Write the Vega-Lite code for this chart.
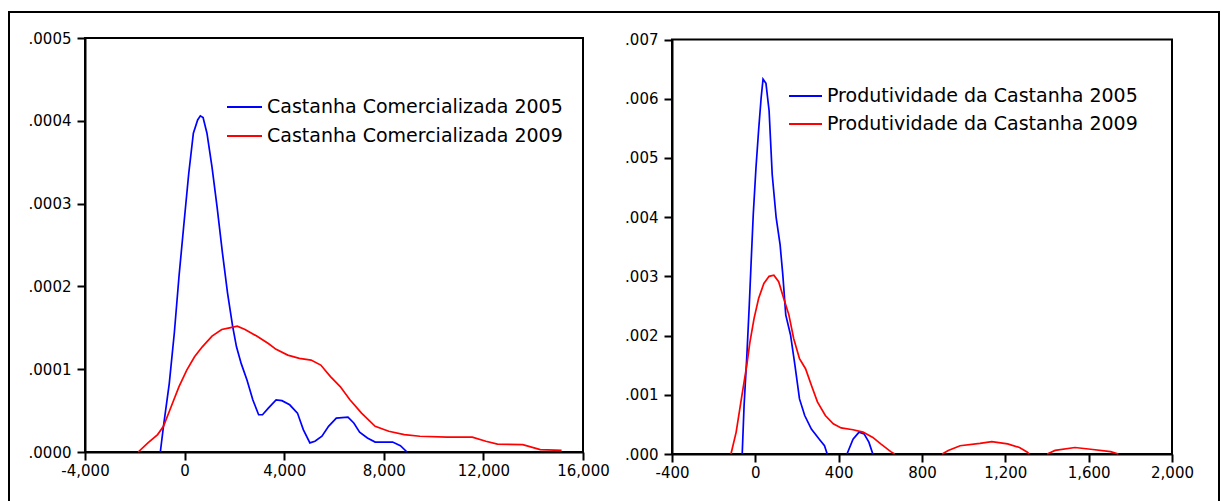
{
  "$schema": "https://vega.github.io/schema/vega-lite/v6.json",
  "width": 1210,
  "height": 490,
  "autosize": {"type": "none"},
  "padding": {"left": 9, "top": 12, "right": 2, "bottom": 0},
  "background": "white",
  "config": {
    "view": {"stroke": "black", "strokeWidth": 2},
    "axis": {
      "grid": false,
      "title": null,
      "domainColor": "black",
      "domainWidth": 2,
      "tickColor": "black",
      "tickWidth": 2,
      "tickSize": 8,
      "labelFont": "DejaVu Sans",
      "labelFontSize": 15,
      "labelColor": "black",
      "labelFlush": false,
      "labelOverlap": false,
      "labelBound": false
    },
    "legend": {
      "title": null,
      "symbolType": "stroke",
      "symbolStrokeWidth": 2,
      "labelFont": "DejaVu Sans",
      "labelFontSize": 19,
      "labelColor": "black",
      "labelLimit": 500,
      "labelOffset": 4,
      "padding": 0
    }
  },
  "datasets": {
    "p1": [
      {"x": -974, "y": 0, "s": "Castanha Comercializada 2005", "seg": "a"},
      {"x": -849, "y": 0.000031, "s": "Castanha Comercializada 2005", "seg": "a"},
      {"x": -615, "y": 0.000083, "s": "Castanha Comercializada 2005", "seg": "a"},
      {"x": -412, "y": 0.000144, "s": "Castanha Comercializada 2005", "seg": "a"},
      {"x": -225, "y": 0.000212, "s": "Castanha Comercializada 2005", "seg": "a"},
      {"x": -38, "y": 0.000272, "s": "Castanha Comercializada 2005", "seg": "a"},
      {"x": 165, "y": 0.000336, "s": "Castanha Comercializada 2005", "seg": "a"},
      {"x": 352, "y": 0.000385, "s": "Castanha Comercializada 2005", "seg": "a"},
      {"x": 524, "y": 0.000401, "s": "Castanha Comercializada 2005", "seg": "a"},
      {"x": 633, "y": 0.000406, "s": "Castanha Comercializada 2005", "seg": "a"},
      {"x": 742, "y": 0.000404, "s": "Castanha Comercializada 2005", "seg": "a"},
      {"x": 898, "y": 0.000385, "s": "Castanha Comercializada 2005", "seg": "a"},
      {"x": 1101, "y": 0.000344, "s": "Castanha Comercializada 2005", "seg": "a"},
      {"x": 1304, "y": 0.000296, "s": "Castanha Comercializada 2005", "seg": "a"},
      {"x": 1522, "y": 0.00024, "s": "Castanha Comercializada 2005", "seg": "a"},
      {"x": 1725, "y": 0.000192, "s": "Castanha Comercializada 2005", "seg": "a"},
      {"x": 1928, "y": 0.000152, "s": "Castanha Comercializada 2005", "seg": "a"},
      {"x": 2084, "y": 0.000127, "s": "Castanha Comercializada 2005", "seg": "a"},
      {"x": 2271, "y": 0.000107, "s": "Castanha Comercializada 2005", "seg": "a"},
      {"x": 2505, "y": 0.000087, "s": "Castanha Comercializada 2005", "seg": "a"},
      {"x": 2739, "y": 0.000063, "s": "Castanha Comercializada 2005", "seg": "a"},
      {"x": 2973, "y": 0.000045, "s": "Castanha Comercializada 2005", "seg": "a"},
      {"x": 3129, "y": 0.000045, "s": "Castanha Comercializada 2005", "seg": "a"},
      {"x": 3363, "y": 0.000053, "s": "Castanha Comercializada 2005", "seg": "a"},
      {"x": 3675, "y": 0.000063, "s": "Castanha Comercializada 2005", "seg": "a"},
      {"x": 3909, "y": 0.000062, "s": "Castanha Comercializada 2005", "seg": "a"},
      {"x": 4221, "y": 0.000057, "s": "Castanha Comercializada 2005", "seg": "a"},
      {"x": 4533, "y": 0.000047, "s": "Castanha Comercializada 2005", "seg": "a"},
      {"x": 4767, "y": 0.000027, "s": "Castanha Comercializada 2005", "seg": "a"},
      {"x": 5032, "y": 0.000011, "s": "Castanha Comercializada 2005", "seg": "a"},
      {"x": 5235, "y": 0.000013, "s": "Castanha Comercializada 2005", "seg": "a"},
      {"x": 5516, "y": 0.000019, "s": "Castanha Comercializada 2005", "seg": "a"},
      {"x": 5781, "y": 0.000031, "s": "Castanha Comercializada 2005", "seg": "a"},
      {"x": 6093, "y": 0.000041, "s": "Castanha Comercializada 2005", "seg": "a"},
      {"x": 6561, "y": 0.000042, "s": "Castanha Comercializada 2005", "seg": "a"},
      {"x": 6795, "y": 0.000035, "s": "Castanha Comercializada 2005", "seg": "a"},
      {"x": 7029, "y": 0.000024, "s": "Castanha Comercializada 2005", "seg": "a"},
      {"x": 7341, "y": 0.000017, "s": "Castanha Comercializada 2005", "seg": "a"},
      {"x": 7653, "y": 0.000012, "s": "Castanha Comercializada 2005", "seg": "a"},
      {"x": 8355, "y": 0.000012, "s": "Castanha Comercializada 2005", "seg": "a"},
      {"x": 8667, "y": 0.0000076, "s": "Castanha Comercializada 2005", "seg": "a"},
      {"x": 8932, "y": 0, "s": "Castanha Comercializada 2005", "seg": "a"},
      {"x": -1863, "y": 0, "s": "Castanha Comercializada 2009", "seg": "b"},
      {"x": -1473, "y": 0.000011, "s": "Castanha Comercializada 2009", "seg": "b"},
      {"x": -1083, "y": 0.000021, "s": "Castanha Comercializada 2009", "seg": "b"},
      {"x": -849, "y": 0.000031, "s": "Castanha Comercializada 2009", "seg": "b"},
      {"x": -537, "y": 0.000055, "s": "Castanha Comercializada 2009", "seg": "b"},
      {"x": -225, "y": 0.000079, "s": "Castanha Comercializada 2009", "seg": "b"},
      {"x": 87, "y": 0.000099, "s": "Castanha Comercializada 2009", "seg": "b"},
      {"x": 399, "y": 0.000115, "s": "Castanha Comercializada 2009", "seg": "b"},
      {"x": 711, "y": 0.000127, "s": "Castanha Comercializada 2009", "seg": "b"},
      {"x": 1101, "y": 0.00014, "s": "Castanha Comercializada 2009", "seg": "b"},
      {"x": 1491, "y": 0.000148, "s": "Castanha Comercializada 2009", "seg": "b"},
      {"x": 1803, "y": 0.00015, "s": "Castanha Comercializada 2009", "seg": "b"},
      {"x": 2115, "y": 0.000152, "s": "Castanha Comercializada 2009", "seg": "b"},
      {"x": 2427, "y": 0.000148, "s": "Castanha Comercializada 2009", "seg": "b"},
      {"x": 2895, "y": 0.00014, "s": "Castanha Comercializada 2009", "seg": "b"},
      {"x": 3363, "y": 0.000131, "s": "Castanha Comercializada 2009", "seg": "b"},
      {"x": 3675, "y": 0.000124, "s": "Castanha Comercializada 2009", "seg": "b"},
      {"x": 4143, "y": 0.000117, "s": "Castanha Comercializada 2009", "seg": "b"},
      {"x": 4611, "y": 0.000113, "s": "Castanha Comercializada 2009", "seg": "b"},
      {"x": 5079, "y": 0.000111, "s": "Castanha Comercializada 2009", "seg": "b"},
      {"x": 5469, "y": 0.000105, "s": "Castanha Comercializada 2009", "seg": "b"},
      {"x": 5859, "y": 0.000091, "s": "Castanha Comercializada 2009", "seg": "b"},
      {"x": 6249, "y": 0.000079, "s": "Castanha Comercializada 2009", "seg": "b"},
      {"x": 6639, "y": 0.000063, "s": "Castanha Comercializada 2009", "seg": "b"},
      {"x": 7107, "y": 0.000047, "s": "Castanha Comercializada 2009", "seg": "b"},
      {"x": 7653, "y": 0.000031, "s": "Castanha Comercializada 2009", "seg": "b"},
      {"x": 8199, "y": 0.000025, "s": "Castanha Comercializada 2009", "seg": "b"},
      {"x": 8823, "y": 0.000021, "s": "Castanha Comercializada 2009", "seg": "b"},
      {"x": 9447, "y": 0.000019, "s": "Castanha Comercializada 2009", "seg": "b"},
      {"x": 10539, "y": 0.000018, "s": "Castanha Comercializada 2009", "seg": "b"},
      {"x": 11553, "y": 0.000018, "s": "Castanha Comercializada 2009", "seg": "b"},
      {"x": 12099, "y": 0.000013, "s": "Castanha Comercializada 2009", "seg": "b"},
      {"x": 12567, "y": 0.0000096, "s": "Castanha Comercializada 2009", "seg": "b"},
      {"x": 13581, "y": 0.0000088, "s": "Castanha Comercializada 2009", "seg": "b"},
      {"x": 14283, "y": 0.0000028, "s": "Castanha Comercializada 2009", "seg": "b"},
      {"x": 15141, "y": 0.000002, "s": "Castanha Comercializada 2009", "seg": "b"}
    ],
    "p2": [
      {"x": -63, "y": 0, "s": "Produtividade da Castanha 2005", "seg": "a1"},
      {"x": -54, "y": 0.00082, "s": "Produtividade da Castanha 2005", "seg": "a1"},
      {"x": -41, "y": 0.00164, "s": "Produtividade da Castanha 2005", "seg": "a1"},
      {"x": -29, "y": 0.00252, "s": "Produtividade da Castanha 2005", "seg": "a1"},
      {"x": -20, "y": 0.00325, "s": "Produtividade da Castanha 2005", "seg": "a1"},
      {"x": -10, "y": 0.00404, "s": "Produtividade da Castanha 2005", "seg": "a1"},
      {"x": 3, "y": 0.00483, "s": "Produtividade da Castanha 2005", "seg": "a1"},
      {"x": 16, "y": 0.00548, "s": "Produtividade da Castanha 2005", "seg": "a1"},
      {"x": 28, "y": 0.00602, "s": "Produtividade da Castanha 2005", "seg": "a1"},
      {"x": 37, "y": 0.00633, "s": "Produtividade da Castanha 2005", "seg": "a1"},
      {"x": 51, "y": 0.00626, "s": "Produtividade da Castanha 2005", "seg": "a1"},
      {"x": 66, "y": 0.0058, "s": "Produtividade da Castanha 2005", "seg": "a1"},
      {"x": 81, "y": 0.00472, "s": "Produtividade da Castanha 2005", "seg": "a1"},
      {"x": 100, "y": 0.00399, "s": "Produtividade da Castanha 2005", "seg": "a1"},
      {"x": 119, "y": 0.00353, "s": "Produtividade da Castanha 2005", "seg": "a1"},
      {"x": 132, "y": 0.00302, "s": "Produtividade da Castanha 2005", "seg": "a1"},
      {"x": 146, "y": 0.00235, "s": "Produtividade da Castanha 2005", "seg": "a1"},
      {"x": 169, "y": 0.00201, "s": "Produtividade da Castanha 2005", "seg": "a1"},
      {"x": 190, "y": 0.0015, "s": "Produtividade da Castanha 2005", "seg": "a1"},
      {"x": 212, "y": 0.00093, "s": "Produtividade da Castanha 2005", "seg": "a1"},
      {"x": 237, "y": 0.00065, "s": "Produtividade da Castanha 2005", "seg": "a1"},
      {"x": 269, "y": 0.00042, "s": "Produtividade da Castanha 2005", "seg": "a1"},
      {"x": 307, "y": 0.00025, "s": "Produtividade da Castanha 2005", "seg": "a1"},
      {"x": 332, "y": 0.00014, "s": "Produtividade da Castanha 2005", "seg": "a1"},
      {"x": 345, "y": 0, "s": "Produtividade da Castanha 2005", "seg": "a1"},
      {"x": 440, "y": 0, "s": "Produtividade da Castanha 2005", "seg": "a2"},
      {"x": 469, "y": 0.00025, "s": "Produtividade da Castanha 2005", "seg": "a2"},
      {"x": 498, "y": 0.00037, "s": "Produtividade da Castanha 2005", "seg": "a2"},
      {"x": 522, "y": 0.00034, "s": "Produtividade da Castanha 2005", "seg": "a2"},
      {"x": 545, "y": 0.0002, "s": "Produtividade da Castanha 2005", "seg": "a2"},
      {"x": 564, "y": 0, "s": "Produtividade da Castanha 2005", "seg": "a2"},
      {"x": -117, "y": 0, "s": "Produtividade da Castanha 2009", "seg": "b1"},
      {"x": -92, "y": 0.00037, "s": "Produtividade da Castanha 2009", "seg": "b1"},
      {"x": -67, "y": 0.00093, "s": "Produtividade da Castanha 2009", "seg": "b1"},
      {"x": -41, "y": 0.0015, "s": "Produtividade da Castanha 2009", "seg": "b1"},
      {"x": -26, "y": 0.00189, "s": "Produtividade da Castanha 2009", "seg": "b1"},
      {"x": -6, "y": 0.00229, "s": "Produtividade da Castanha 2009", "seg": "b1"},
      {"x": 16, "y": 0.00263, "s": "Produtividade da Castanha 2009", "seg": "b1"},
      {"x": 41, "y": 0.00288, "s": "Produtividade da Castanha 2009", "seg": "b1"},
      {"x": 66, "y": 0.003, "s": "Produtividade da Castanha 2009", "seg": "b1"},
      {"x": 89, "y": 0.00302, "s": "Produtividade da Castanha 2009", "seg": "b1"},
      {"x": 112, "y": 0.00291, "s": "Produtividade da Castanha 2009", "seg": "b1"},
      {"x": 136, "y": 0.00263, "s": "Produtividade da Castanha 2009", "seg": "b1"},
      {"x": 161, "y": 0.00235, "s": "Produtividade da Castanha 2009", "seg": "b1"},
      {"x": 184, "y": 0.00195, "s": "Produtividade da Castanha 2009", "seg": "b1"},
      {"x": 212, "y": 0.00161, "s": "Produtividade da Castanha 2009", "seg": "b1"},
      {"x": 241, "y": 0.00144, "s": "Produtividade da Castanha 2009", "seg": "b1"},
      {"x": 269, "y": 0.00116, "s": "Produtividade da Castanha 2009", "seg": "b1"},
      {"x": 298, "y": 0.00088, "s": "Produtividade da Castanha 2009", "seg": "b1"},
      {"x": 336, "y": 0.00065, "s": "Produtividade da Castanha 2009", "seg": "b1"},
      {"x": 374, "y": 0.00051, "s": "Produtividade da Castanha 2009", "seg": "b1"},
      {"x": 412, "y": 0.00044, "s": "Produtividade da Castanha 2009", "seg": "b1"},
      {"x": 469, "y": 0.00041, "s": "Produtividade da Castanha 2009", "seg": "b1"},
      {"x": 517, "y": 0.00037, "s": "Produtividade da Castanha 2009", "seg": "b1"},
      {"x": 564, "y": 0.00028, "s": "Produtividade da Castanha 2009", "seg": "b1"},
      {"x": 602, "y": 0.00017, "s": "Produtividade da Castanha 2009", "seg": "b1"},
      {"x": 650, "y": 0.00004, "s": "Produtividade da Castanha 2009", "seg": "b1"},
      {"x": 669, "y": 0, "s": "Produtividade da Castanha 2009", "seg": "b1"},
      {"x": 897, "y": 0, "s": "Produtividade da Castanha 2009", "seg": "b2"},
      {"x": 926, "y": 0.00006, "s": "Produtividade da Castanha 2009", "seg": "b2"},
      {"x": 983, "y": 0.00014, "s": "Produtividade da Castanha 2009", "seg": "b2"},
      {"x": 1078, "y": 0.00018, "s": "Produtividade da Castanha 2009", "seg": "b2"},
      {"x": 1135, "y": 0.00021, "s": "Produtividade da Castanha 2009", "seg": "b2"},
      {"x": 1211, "y": 0.00017, "s": "Produtividade da Castanha 2009", "seg": "b2"},
      {"x": 1268, "y": 0.00011, "s": "Produtividade da Castanha 2009", "seg": "b2"},
      {"x": 1306, "y": 0.00003, "s": "Produtividade da Castanha 2009", "seg": "b2"},
      {"x": 1315, "y": 0, "s": "Produtividade da Castanha 2009", "seg": "b2"},
      {"x": 1401, "y": 0, "s": "Produtividade da Castanha 2009", "seg": "b3"},
      {"x": 1439, "y": 0.00006, "s": "Produtividade da Castanha 2009", "seg": "b3"},
      {"x": 1534, "y": 0.00011, "s": "Produtividade da Castanha 2009", "seg": "b3"},
      {"x": 1610, "y": 0.00008, "s": "Produtividade da Castanha 2009", "seg": "b3"},
      {"x": 1705, "y": 0.00004, "s": "Produtividade da Castanha 2009", "seg": "b3"},
      {"x": 1743, "y": 0, "s": "Produtividade da Castanha 2009", "seg": "b3"}
    ]
  },
  "layer": [
    {
      "layer": [
        {
          "data": {"values": [{}]},
          "mark": {"type": "rect", "fill": null, "stroke": "black", "strokeWidth": 2},
          "encoding": {
            "x": {"datum": -4000, "type": "quantitative"},
            "x2": {"datum": 16000},
            "y": {"datum": 0, "type": "quantitative"},
            "y2": {"datum": 0.0005}
          }
        },
        {
          "data": {"name": "p1"},
          "mark": {"type": "line", "strokeWidth": 1.7},
          "encoding": {
            "x": {
              "field": "x", "type": "quantitative",
              "scale": {"domain": [-4000, 16000], "range": [76, 574], "nice": false, "zero": false},
              "axis": {"orient": "bottom", "offset": -50, "values": [-4000, 0, 4000, 8000, 12000, 16000], "labelPadding": 3,
                       "labelExpr": "replace(format(datum.value, ','), '\u2212', '-')"}
            },
            "y": {
              "field": "y", "type": "quantitative",
              "scale": {"domain": [0, 0.0005], "range": [440, 26], "nice": false, "zero": false},
              "axis": {"orient": "left", "offset": -76, "values": [0, 0.0001, 0.0002, 0.0003, 0.0004, 0.0005], "labelPadding": 6,
                       "labelExpr": "substring(format(datum.value, '.4f'), 1)"}
            },
            "color": {
              "field": "s", "type": "nominal",
              "scale": {"domain": ["Castanha Comercializada 2005", "Castanha Comercializada 2009"], "range": ["#0000ff", "#ff0000"]},
              "legend": {"orient": "none", "legendX": 217, "legendY": 76.5, "symbolSize": 1225, "rowPadding": -10}
            },
            "detail": {"field": "seg"}
          }
        }
      ]
    },
    {
      "layer": [
        {
          "data": {"values": [{}]},
          "mark": {"type": "rect", "fill": null, "stroke": "black", "strokeWidth": 2},
          "encoding": {
            "x": {"datum": -400, "type": "quantitative"},
            "x2": {"datum": 2000},
            "y": {"datum": 0, "type": "quantitative"},
            "y2": {"datum": 0.007}
          }
        },
        {
          "data": {"name": "p2"},
          "mark": {"type": "line", "strokeWidth": 1.7},
          "encoding": {
            "x": {
              "field": "x", "type": "quantitative",
              "scale": {"domain": [-400, 2000], "range": [663, 1163], "nice": false, "zero": false},
              "axis": {"orient": "bottom", "offset": -48, "values": [-400, 0, 400, 800, 1200, 1600, 2000], "labelPadding": 3,
                       "labelExpr": "replace(format(datum.value, ','), '\u2212', '-')"}
            },
            "y": {
              "field": "y", "type": "quantitative",
              "scale": {"domain": [0, 0.007], "range": [442, 27.5], "nice": false, "zero": false},
              "axis": {"orient": "left", "offset": -663, "values": [0, 0.001, 0.002, 0.003, 0.004, 0.005, 0.006, 0.007], "labelPadding": 6,
                       "labelExpr": "substring(format(datum.value, '.3f'), 1)"}
            },
            "color": {
              "field": "s", "type": "nominal",
              "scale": {"domain": ["Produtividade da Castanha 2005", "Produtividade da Castanha 2009"], "range": ["#0000ff", "#ff0000"]},
              "legend": {"orient": "none", "legendX": 779, "legendY": 66.5, "symbolSize": 1089, "rowPadding": -11}
            },
            "detail": {"field": "seg"}
          }
        }
      ]
    }
  ],
  "resolve": {
    "scale": {"x": "independent", "y": "independent", "color": "independent"},
    "axis": {"x": "independent", "y": "independent"},
    "legend": {"color": "independent"}
  }
}
